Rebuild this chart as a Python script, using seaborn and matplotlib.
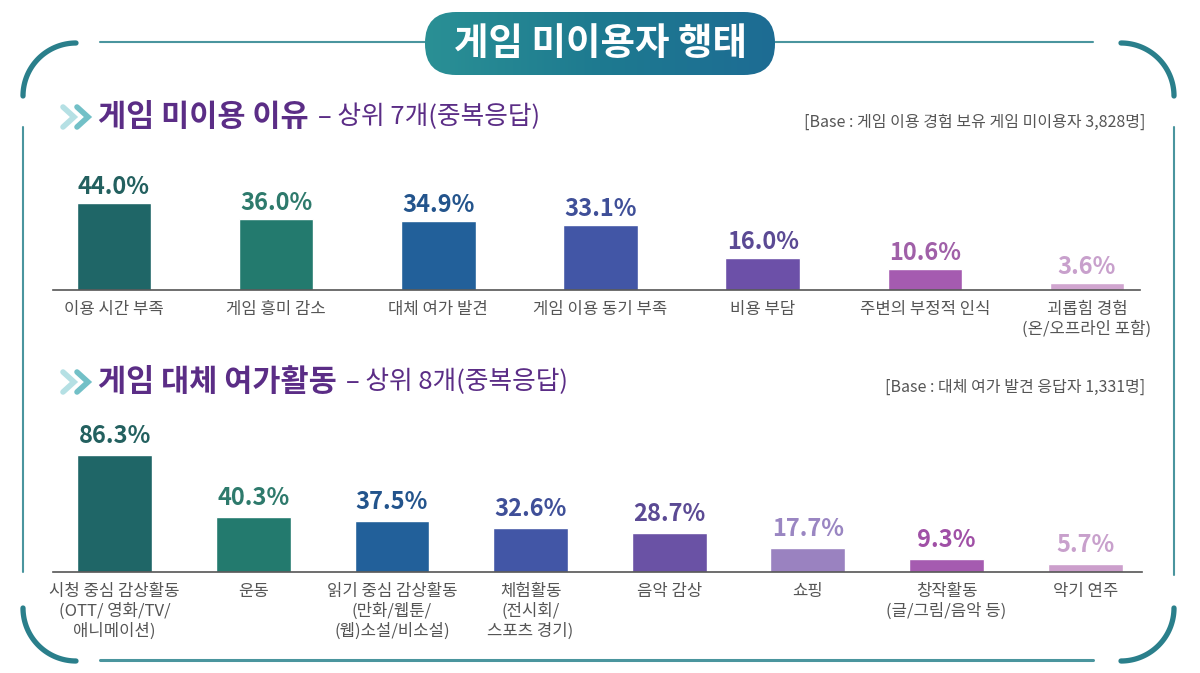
import matplotlib
matplotlib.use('Agg')
import matplotlib.pyplot as plt
from matplotlib.patches import FancyBboxPatch
from matplotlib.colors import LinearSegmentedColormap
import numpy as np
import seaborn as sns

# data
reasons = ['이용 시간 부족', '게임 흥미 감소', '대체 여가 발견', '게임 이용 동기 부족',
           '비용 부담', '주변의 부정적 인식', '괴롭힘 경험\n(온/오프라인 포함)']
reason_pct = [44.0, 36.0, 34.9, 33.1, 16.0, 10.6, 3.6]

activities = ['시청 중심 감상활동\n(OTT/ 영화/TV/\n애니메이션)', '운동',
              '읽기 중심 감상활동\n(만화/웹툰/\n(웹)소설/비소설)', '체험활동\n(전시회/\n스포츠 경기)',
              '음악 감상', '쇼핑', '창작활동\n(글/그림/음악 등)', '악기 연주']
activity_pct = [86.3, 40.3, 37.5, 32.6, 28.7, 17.7, 9.3, 5.7]

reason_colors = ['#1f6667', '#237a6e', '#22609a', '#4256a6', '#6c50a8', '#a55bb0', '#d0a5cf']
reason_text = ['#23605f', '#2e7a6c', '#23548c', '#3f4f98', '#5b4a94', '#a060a8', '#c8a0cc']
activity_colors = ['#1f6667', '#237a6e', '#22609a', '#4256a6', '#6a52a5', '#9a82c0', '#a55bb0', '#cc9fcc']
activity_text = ['#23605f', '#2e7a6c', '#23548c', '#3f4f98', '#5b4a94', '#9a86c2', '#a050a6', '#c8a0cc']

sns.set_style('white')
plt.rcParams['font.family'] = ['Noto Sans CJK KR', 'DejaVu Sans']

W, H = 1200, 673
fig = plt.figure(figsize=(12, 6.73), dpi=100)

# decoration layer in pixel coordinates
deco = fig.add_axes([0, 0, 1, 1], zorder=-1)
deco.set_xlim(0, W)
deco.set_ylim(H, 0)
deco.axis('off')

teal = '#2a7f8b'
line_teal = '#4a959e'
deco.plot([100, 425], [42, 42], color=line_teal, lw=1.5)
deco.plot([775, 1093], [42, 42], color=line_teal, lw=1.5)
deco.plot([100, 1093], [660, 660], color=line_teal, lw=2.2)
deco.plot([23, 23], [127, 572], color=line_teal, lw=1.5)
deco.plot([1174, 1174], [127, 575], color=line_teal, lw=1.5)


def arc(cx, cy, r, a0, a1):
    t = np.radians(np.linspace(a0, a1, 60))
    deco.plot(cx + r * np.cos(t), cy - r * np.sin(t), color=teal, lw=3.8,
              solid_capstyle='round')


arc(76, 96, 53, 90, 180)
arc(1121, 96, 53, 0, 90)
arc(76, 608, 53, 180, 270)
arc(1121, 608, 53, 270, 360)

# title pill with gradient
pill = FancyBboxPatch((425, 12), 350, 63, boxstyle='round,pad=0,rounding_size=31',
                      facecolor='none', edgecolor='none')
deco.add_patch(pill)
grad = LinearSegmentedColormap.from_list('g', ['#2a9095', '#1e7a90', '#1d6c94'])
img = deco.imshow(np.linspace(0, 1, 256)[None, :], cmap=grad, aspect='auto',
                  extent=(425, 775, 75, 12), zorder=2)
img.set_clip_path(pill)
deco.set_xlim(0, W)
deco.set_ylim(H, 0)
deco.text(600, 43, '게임 미이용자 행태', color='white', fontsize=27, fontweight='bold',
          ha='center', va='center', zorder=3)


def header(y, main, sub, base):
    for x0, c in [(63, '#b5e0e4'), (77, '#72c0c7')]:
        deco.plot([x0, x0 + 11, x0], [y - 10, y, y + 10], color=c, lw=4,
                  solid_joinstyle='miter')
    t = deco.text(98, y, main, color='#5b2d86', fontsize=22, fontweight='bold',
                  ha='left', va='center')
    deco.annotate(sub, xy=(1, 0.5), xycoords=t, xytext=(7, 0), textcoords='offset points',
                  color='#5b2d86', fontsize=18.5, ha='left', va='center')
    deco.text(1145, y + 5, base, color='#555555', fontsize=11.5, ha='right', va='center')


header(117, '게임 미이용 이유', '– 상위 7개(중복응답)', '[Base : 게임 이용 경험 보유 게임 미이용자 3,828명]')
header(382, '게임 대체 여가활동', '– 상위 8개(중복응답)', '[Base : 대체 여가 발견 응답자 1,331명]')


def bars(ax, cats, vals, colors, tcolors, width, off):
    sns.barplot(x=cats, y=vals, hue=cats, palette=colors, legend=False,
                width=width, saturation=1, ax=ax)
    for i, (v, c) in enumerate(zip(vals, tcolors)):
        ax.annotate(f'{v:.1f}%', (i, v), xytext=(0, off), textcoords='offset points',
                    ha='center', va='bottom', color=c, fontsize=17, fontweight='bold')
    for s in ['top', 'left', 'right']:
        ax.spines[s].set_visible(False)
    ax.spines['bottom'].set_color('#555555')
    ax.spines['bottom'].set_linewidth(1.2)
    ax.set_yticks([])
    ax.set_xlabel('')
    ax.set_ylabel('')
    ax.tick_params(axis='x', length=0, pad=8, labelsize=12, labelcolor='#555555')
    for lab in ax.get_xticklabels():
        lab.set_linespacing(1.2)
    ax.patch.set_alpha(0)


# top chart: baseline at y=290 px, 1.97 px per %
ax1 = fig.add_axes([53 / W, (H - 290) / H, 1087 / W, 98.5 / H])
bars(ax1, reasons, reason_pct, reason_colors, reason_text, 0.46, 3)
ax1.set_xlim(-0.376, 6.327)
ax1.set_ylim(0, 50)

# bottom chart: baseline at y=572 px, 1.36 px per %
ax2 = fig.add_axes([53 / W, (H - 572) / H, 1089 / W, 129 / H])
bars(ax2, activities, activity_pct, activity_colors, activity_text, 0.54, 5)
ax2.set_xlim(-0.445, 7.41)
ax2.set_ylim(0, 95)

fig.savefig('out.png', dpi=100)
